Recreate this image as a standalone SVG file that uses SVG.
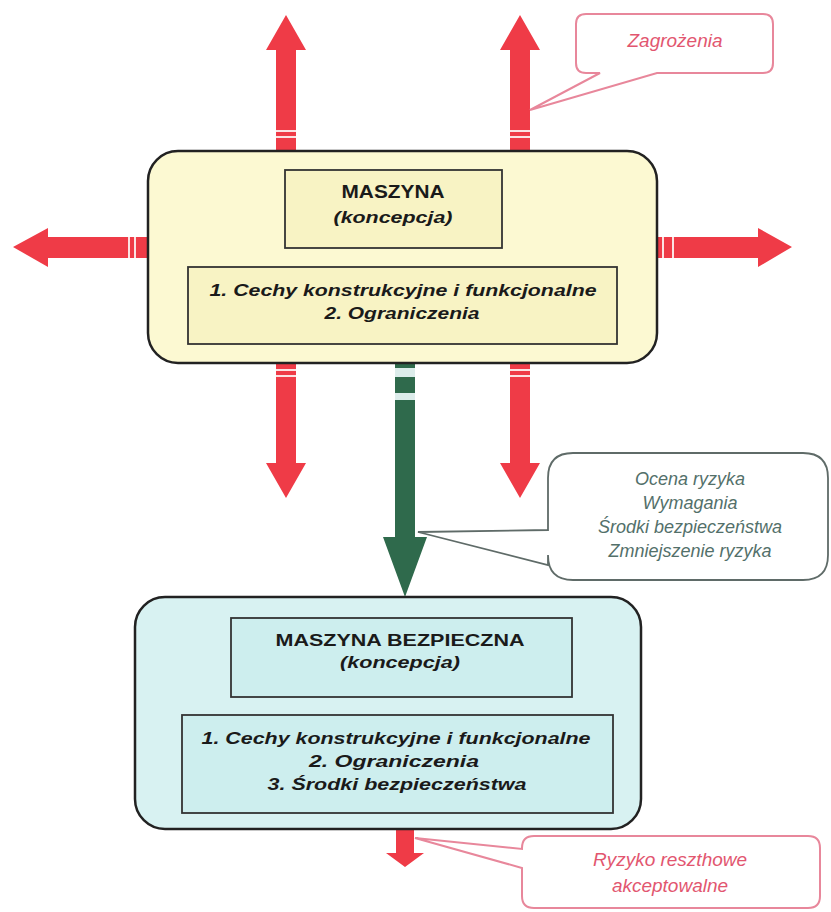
<svg xmlns="http://www.w3.org/2000/svg" width="831" height="912" viewBox="0 0 831 912">
<style>
.red{fill:#ef3b47}
.grn{fill:#2f6a4c}
.stripe{stroke:#fbe3e3;stroke-width:2}
.gstripe{fill:#dcecea}
.outer{stroke:#222;stroke-width:2.5}
.inner{stroke:#333;stroke-width:1.8}
.yel{fill:#fcf9d2}
.yel2{fill:#f8f3c4}
.cyan{fill:#d8f2f2}
.cyan2{fill:#cdeeee}
.t{font-family:"Liberation Sans",Arial,sans-serif;fill:#1a1a1a;text-anchor:middle}
.b{font-weight:bold}
.bi{font-weight:bold;font-style:italic}
.pink{fill:none;stroke:#e8879b;stroke-width:2}
.gray{fill:none;stroke:#5f6b68;stroke-width:1.8}
.ptxt{font-family:"Liberation Sans",Arial,sans-serif;font-style:italic;fill:#e2566f;text-anchor:middle;font-size:19px}
.gtxt{font-family:"Liberation Sans",Arial,sans-serif;font-style:italic;fill:#53706a;text-anchor:middle;font-size:18px}
</style>

<g id="connectors">
  <polygon class="red" points="286,15 306,50 296,50 296,151 276,151 276,50 266,50"/>
  <line class="stripe" x1="276" y1="131" x2="296" y2="131"/><line class="stripe" x1="276" y1="137" x2="296" y2="137"/>
  <polygon class="red" points="520,15 540,50 530,50 530,151 510,151 510,50 500,50"/>
  <line class="stripe" x1="510" y1="131" x2="530" y2="131"/><line class="stripe" x1="510" y1="137" x2="530" y2="137"/>
  <polygon class="red" points="13,247 48,228 48,237 148,237 148,258 48,258 48,267"/>
  <line class="stripe" x1="129" y1="237" x2="129" y2="258"/><line class="stripe" x1="135" y1="237" x2="135" y2="258"/>
  <polygon class="red" points="792,247 758,228 758,237 657,237 657,258 758,258 758,267"/>
  <line class="stripe" x1="663" y1="237" x2="663" y2="258"/><line class="stripe" x1="673" y1="237" x2="673" y2="258"/>
  <polygon class="red" points="276,363 296,363 296,463 306,463 286,498 266,463 276,463"/>
  <line class="stripe" x1="276" y1="370" x2="296" y2="370"/><line class="stripe" x1="276" y1="376" x2="296" y2="376"/>
  <polygon class="red" points="510,363 530,363 530,463 540,463 520,498 500,463 510,463"/>
  <line class="stripe" x1="510" y1="370" x2="530" y2="370"/><line class="stripe" x1="510" y1="376" x2="530" y2="376"/>
  <polygon class="grn" points="395,363 415,363 415,537 427,537 405,597 383,537 395,537"/>
  <rect class="gstripe" x="395" y="368" width="20" height="9"/>
  <rect class="gstripe" x="395" y="393" width="20" height="7"/>
  <polygon class="red" points="396,829 414,829 414,853 424,853 405,867 386,853 396,853"/>
</g>

<g id="machine">
  <rect class="outer yel" x="148" y="151" width="509" height="212" rx="30"/>
  <g id="machine-title">
    <rect class="inner yel2" x="285" y="170" width="217" height="78"/>
    <text class="t b" x="393" y="198" font-size="18" textLength="103" lengthAdjust="spacingAndGlyphs">MASZYNA</text>
    <text class="t bi" x="393" y="223" font-size="17" textLength="119" lengthAdjust="spacingAndGlyphs">(koncepcja)</text>
  </g>
  <g id="machine-features">
    <rect class="inner yel2" x="188" y="267" width="429" height="77"/>
    <text class="t bi" x="403" y="296" font-size="17" textLength="387" lengthAdjust="spacingAndGlyphs">1. Cechy konstrukcyjne i funkcjonalne</text>
    <text class="t bi" x="402" y="319" font-size="17" textLength="155" lengthAdjust="spacingAndGlyphs">2. Ograniczenia</text>
  </g>
</g>

<g id="safe-machine">
  <rect class="outer cyan" x="135" y="597" width="506" height="232" rx="30"/>
  <g id="safe-title">
    <rect class="inner cyan2" x="231" y="618" width="341" height="79"/>
    <text class="t b" x="400" y="646" font-size="17" textLength="249" lengthAdjust="spacingAndGlyphs">MASZYNA BEZPIECZNA</text>
    <text class="t bi" x="400" y="668" font-size="17" textLength="120" lengthAdjust="spacingAndGlyphs">(koncepcja)</text>
  </g>
  <g id="safe-features">
    <rect class="inner cyan2" x="182" y="715" width="431" height="98"/>
    <text class="t bi" x="396" y="744" font-size="17" textLength="389" lengthAdjust="spacingAndGlyphs">1. Cechy konstrukcyjne i funkcjonalne</text>
    <text class="t bi" x="394" y="767" font-size="17" textLength="170" lengthAdjust="spacingAndGlyphs">2. Ograniczenia</text>
    <text class="t bi" x="397" y="790" font-size="17" textLength="259" lengthAdjust="spacingAndGlyphs">3. Środki bezpieczeństwa</text>
  </g>
</g>

<g id="callout-zagrozenia">
  <path class="pink" d="M586,14 H763 Q773,14 773,24 V63 Q773,73 763,73 H657 L530,110 L600,73 H586 Q576,73 576,63 V24 Q576,14 586,14 Z" style="fill:#fff"/>
  <text class="ptxt" x="675" y="47">Zagrożenia</text>
</g>

<g id="callout-ocena">
  <path class="gray" d="M573,453 H803 Q828,453 828,478 V555 Q828,580 803,580 H573 Q548,580 548,555 V565 L418,532 L548,530 V478 Q548,453 573,453 Z" style="fill:#fff"/>
  <text class="gtxt" x="690" y="485">Ocena ryzyka</text>
  <text class="gtxt" x="690" y="509">Wymagania</text>
  <text class="gtxt" x="690" y="533">Środki bezpieczeństwa</text>
  <text class="gtxt" x="690" y="557">Zmniejszenie ryzyka</text>
</g>

<g id="callout-ryzyko">
  <path class="pink" d="M534,836 H808 Q820,836 820,848 V896 Q820,908 808,908 H534 Q522,908 522,896 V868 L415,838 L522,849 V848 Q522,836 534,836 Z" style="fill:#fff"/>
  <text class="ptxt" x="670" y="866">Ryzyko reszthowe</text>
  <text class="ptxt" x="670" y="892">akceptowalne</text>
</g>
</svg>
